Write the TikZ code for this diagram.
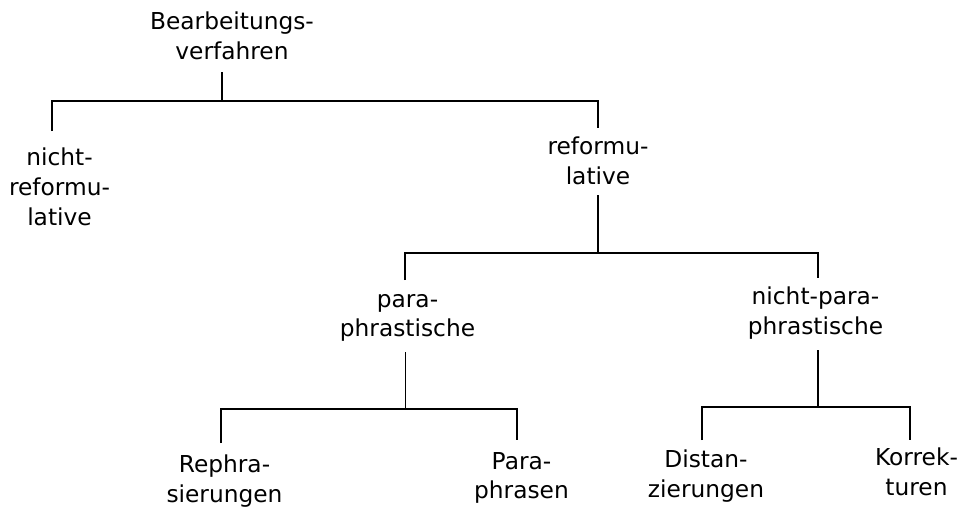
\documentclass[tikz,border=0pt]{standalone}
\usepackage{fontspec}
\setmainfont{DejaVu Sans}
\begin{document}
\begin{tikzpicture}[x=1pt,y=-1pt,
  term/.style={inner sep=0pt,align=center,font=\fontsize{23.3}{29.7}\selectfont},
  branch/.style={line width=1.9pt,line join=miter}]
\useasboundingbox (0,0) rectangle (960,506);

% labels
\node[term] (root)  at (232,36)    {Bearbeitungs-\\verfahren};
\node[term] (nref)  at (59.5,187)  {nicht-\\reformu-\\lative};
\node[term] (ref)   at (598,161)   {reformu-\\lative};
\node[term] (para)  at (407.5,318) {para-\\phrastische};
\node[term] (npara) at (815.5,313.4) {nicht-para-\\phrastische};
\node[term] (reph)  at (224.5,481.4) {Rephra-\\sierungen};
\node[term] (paraph) at (521.5,477.8) {Para-\\phrasen};
\node[term] (dist)  at (706,476.4) {Distan-\\zierungen};
\node[term] (korr)  at (916.5,472) {Korrek-\\turen};

% stems, junctions and drop ends
\coordinate (root-s) at (222,72);   \coordinate (j1) at (222,101);
\coordinate (nref-n) at (52,131);   \coordinate (ref-n) at (598,128);
\coordinate (ref-s) at (598,195);   \coordinate (j2) at (598,253);
\coordinate (para-n) at (405,280);  \coordinate (npara-n) at (818,278);
\coordinate (para-s) at (405.5,352); \coordinate (j3) at (405.5,409);
\coordinate (reph-n) at (221,443);  \coordinate (paraph-n) at (517,440);
\coordinate (npara-s) at (818,350); \coordinate (j4) at (818,407);
\coordinate (dist-n) at (702,440);  \coordinate (korr-n) at (910,440);

% branches
\draw[branch] (root-s) -- (j1);
\draw[branch] (nref-n) |- (j1) -| (ref-n);
\draw[branch] (ref-s) -- (j2);
\draw[branch] (para-n) |- (j2) -| (npara-n);
\draw[branch] (para-s) -- (j3);
\draw[branch] (reph-n) |- (j3) -| (paraph-n);
\draw[branch] (npara-s) -- (j4);
\draw[branch] (dist-n) |- (j4) -| (korr-n);
\end{tikzpicture}
\end{document}
